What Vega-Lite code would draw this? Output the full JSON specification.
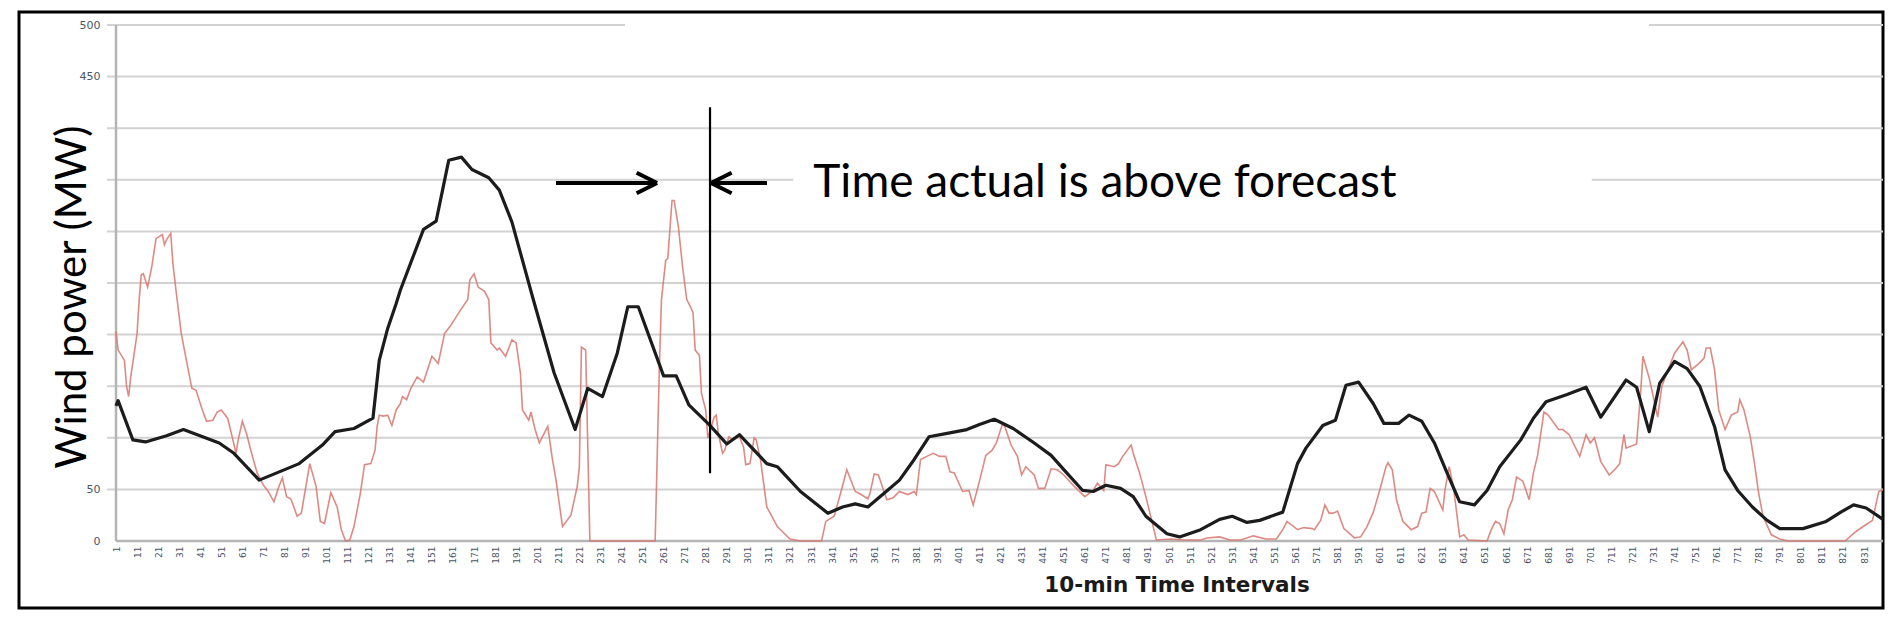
{
  "$schema": "https://vega.github.io/schema/vega-lite/v6.json",
  "width": 1864,
  "height": 596,
  "autosize": {"type": "none"},
  "padding": {"left": 19, "top": 12, "right": 17, "bottom": 22},
  "background": "white",
  "config": {
    "view": {"stroke": "black", "strokeWidth": 3},
    "font": "DejaVu Sans"
  },
  "datasets": {
    "power": [
      {"interval": 1, "mw": 131, "series": "Forecast"},
      {"interval": 2, "mw": 136, "series": "Forecast"},
      {"interval": 9, "mw": 98, "series": "Forecast"},
      {"interval": 15, "mw": 96, "series": "Forecast"},
      {"interval": 25, "mw": 102, "series": "Forecast"},
      {"interval": 33, "mw": 108, "series": "Forecast"},
      {"interval": 50, "mw": 95, "series": "Forecast"},
      {"interval": 57, "mw": 85, "series": "Forecast"},
      {"interval": 69, "mw": 59, "series": "Forecast"},
      {"interval": 88, "mw": 75, "series": "Forecast"},
      {"interval": 99, "mw": 93, "series": "Forecast"},
      {"interval": 105, "mw": 106, "series": "Forecast"},
      {"interval": 114, "mw": 109, "series": "Forecast"},
      {"interval": 123, "mw": 119, "series": "Forecast"},
      {"interval": 126, "mw": 175, "series": "Forecast"},
      {"interval": 130, "mw": 206, "series": "Forecast"},
      {"interval": 134, "mw": 230, "series": "Forecast"},
      {"interval": 136, "mw": 243, "series": "Forecast"},
      {"interval": 147, "mw": 302, "series": "Forecast"},
      {"interval": 153, "mw": 310, "series": "Forecast"},
      {"interval": 159, "mw": 369, "series": "Forecast"},
      {"interval": 165, "mw": 372, "series": "Forecast"},
      {"interval": 170, "mw": 360, "series": "Forecast"},
      {"interval": 178, "mw": 352, "series": "Forecast"},
      {"interval": 183, "mw": 340, "series": "Forecast"},
      {"interval": 189, "mw": 309, "series": "Forecast"},
      {"interval": 199, "mw": 235, "series": "Forecast"},
      {"interval": 209, "mw": 163, "series": "Forecast"},
      {"interval": 219, "mw": 108, "series": "Forecast"},
      {"interval": 225, "mw": 148, "series": "Forecast"},
      {"interval": 232, "mw": 140, "series": "Forecast"},
      {"interval": 239, "mw": 182, "series": "Forecast"},
      {"interval": 244, "mw": 227, "series": "Forecast"},
      {"interval": 249, "mw": 227, "series": "Forecast"},
      {"interval": 261, "mw": 160, "series": "Forecast"},
      {"interval": 267, "mw": 160, "series": "Forecast"},
      {"interval": 273, "mw": 132, "series": "Forecast"},
      {"interval": 283, "mw": 112, "series": "Forecast"},
      {"interval": 291, "mw": 94, "series": "Forecast"},
      {"interval": 297, "mw": 103, "series": "Forecast"},
      {"interval": 310, "mw": 75, "series": "Forecast"},
      {"interval": 315, "mw": 72, "series": "Forecast"},
      {"interval": 326, "mw": 48, "series": "Forecast"},
      {"interval": 339, "mw": 27, "series": "Forecast"},
      {"interval": 346, "mw": 33, "series": "Forecast"},
      {"interval": 352, "mw": 36, "series": "Forecast"},
      {"interval": 358, "mw": 33, "series": "Forecast"},
      {"interval": 365, "mw": 45, "series": "Forecast"},
      {"interval": 373, "mw": 59, "series": "Forecast"},
      {"interval": 380, "mw": 79, "series": "Forecast"},
      {"interval": 387, "mw": 101, "series": "Forecast"},
      {"interval": 395, "mw": 104, "series": "Forecast"},
      {"interval": 405, "mw": 108, "series": "Forecast"},
      {"interval": 411, "mw": 113, "series": "Forecast"},
      {"interval": 418, "mw": 118, "series": "Forecast"},
      {"interval": 427, "mw": 109, "series": "Forecast"},
      {"interval": 437, "mw": 95, "series": "Forecast"},
      {"interval": 445, "mw": 83, "series": "Forecast"},
      {"interval": 452, "mw": 67, "series": "Forecast"},
      {"interval": 460, "mw": 49, "series": "Forecast"},
      {"interval": 465, "mw": 48, "series": "Forecast"},
      {"interval": 471, "mw": 54, "series": "Forecast"},
      {"interval": 478, "mw": 51, "series": "Forecast"},
      {"interval": 484, "mw": 43, "series": "Forecast"},
      {"interval": 490, "mw": 24, "series": "Forecast"},
      {"interval": 500, "mw": 7, "series": "Forecast"},
      {"interval": 506, "mw": 4, "series": "Forecast"},
      {"interval": 516, "mw": 11, "series": "Forecast"},
      {"interval": 525, "mw": 21, "series": "Forecast"},
      {"interval": 531, "mw": 24, "series": "Forecast"},
      {"interval": 538, "mw": 18, "series": "Forecast"},
      {"interval": 544, "mw": 20, "series": "Forecast"},
      {"interval": 555, "mw": 28, "series": "Forecast"},
      {"interval": 562, "mw": 75, "series": "Forecast"},
      {"interval": 566, "mw": 90, "series": "Forecast"},
      {"interval": 574, "mw": 112, "series": "Forecast"},
      {"interval": 580, "mw": 117, "series": "Forecast"},
      {"interval": 585, "mw": 151, "series": "Forecast"},
      {"interval": 591, "mw": 154, "series": "Forecast"},
      {"interval": 598, "mw": 133, "series": "Forecast"},
      {"interval": 603, "mw": 114, "series": "Forecast"},
      {"interval": 610, "mw": 114, "series": "Forecast"},
      {"interval": 615, "mw": 122, "series": "Forecast"},
      {"interval": 621, "mw": 116, "series": "Forecast"},
      {"interval": 627, "mw": 95, "series": "Forecast"},
      {"interval": 633, "mw": 66, "series": "Forecast"},
      {"interval": 639, "mw": 38, "series": "Forecast"},
      {"interval": 646, "mw": 35, "series": "Forecast"},
      {"interval": 652, "mw": 49, "series": "Forecast"},
      {"interval": 658, "mw": 72, "series": "Forecast"},
      {"interval": 668, "mw": 98, "series": "Forecast"},
      {"interval": 674, "mw": 119, "series": "Forecast"},
      {"interval": 680, "mw": 135, "series": "Forecast"},
      {"interval": 690, "mw": 142, "series": "Forecast"},
      {"interval": 699, "mw": 149, "series": "Forecast"},
      {"interval": 706, "mw": 120, "series": "Forecast"},
      {"interval": 718, "mw": 156, "series": "Forecast"},
      {"interval": 723, "mw": 149, "series": "Forecast"},
      {"interval": 729, "mw": 106, "series": "Forecast"},
      {"interval": 734, "mw": 153, "series": "Forecast"},
      {"interval": 741, "mw": 174, "series": "Forecast"},
      {"interval": 747, "mw": 167, "series": "Forecast"},
      {"interval": 753, "mw": 150, "series": "Forecast"},
      {"interval": 760, "mw": 111, "series": "Forecast"},
      {"interval": 765, "mw": 69, "series": "Forecast"},
      {"interval": 771, "mw": 49, "series": "Forecast"},
      {"interval": 778, "mw": 33, "series": "Forecast"},
      {"interval": 785, "mw": 20, "series": "Forecast"},
      {"interval": 791, "mw": 12, "series": "Forecast"},
      {"interval": 802, "mw": 12, "series": "Forecast"},
      {"interval": 813, "mw": 19, "series": "Forecast"},
      {"interval": 820, "mw": 28, "series": "Forecast"},
      {"interval": 826, "mw": 35, "series": "Forecast"},
      {"interval": 832, "mw": 32, "series": "Forecast"},
      {"interval": 840, "mw": 21, "series": "Forecast"},

      {"interval": 1, "mw": 203, "series": "Actual"},
      {"interval": 2, "mw": 185, "series": "Actual"},
      {"interval": 5, "mw": 175, "series": "Actual"},
      {"interval": 6, "mw": 150, "series": "Actual"},
      {"interval": 7, "mw": 140, "series": "Actual"},
      {"interval": 8, "mw": 159, "series": "Actual"},
      {"interval": 11, "mw": 201, "series": "Actual"},
      {"interval": 12, "mw": 234, "series": "Actual"},
      {"interval": 13, "mw": 258, "series": "Actual"},
      {"interval": 14, "mw": 259, "series": "Actual"},
      {"interval": 16, "mw": 246, "series": "Actual"},
      {"interval": 18, "mw": 266, "series": "Actual"},
      {"interval": 20, "mw": 293, "series": "Actual"},
      {"interval": 23, "mw": 297, "series": "Actual"},
      {"interval": 24, "mw": 287, "series": "Actual"},
      {"interval": 25, "mw": 292, "series": "Actual"},
      {"interval": 27, "mw": 298, "series": "Actual"},
      {"interval": 28, "mw": 269, "series": "Actual"},
      {"interval": 30, "mw": 234, "series": "Actual"},
      {"interval": 32, "mw": 201, "series": "Actual"},
      {"interval": 35, "mw": 169, "series": "Actual"},
      {"interval": 37, "mw": 148, "series": "Actual"},
      {"interval": 39, "mw": 146, "series": "Actual"},
      {"interval": 42, "mw": 127, "series": "Actual"},
      {"interval": 44, "mw": 116, "series": "Actual"},
      {"interval": 47, "mw": 117, "series": "Actual"},
      {"interval": 49, "mw": 125, "series": "Actual"},
      {"interval": 51, "mw": 127, "series": "Actual"},
      {"interval": 54, "mw": 119, "series": "Actual"},
      {"interval": 55, "mw": 111, "series": "Actual"},
      {"interval": 58, "mw": 85, "series": "Actual"},
      {"interval": 59, "mw": 98, "series": "Actual"},
      {"interval": 61, "mw": 116, "series": "Actual"},
      {"interval": 63, "mw": 104, "series": "Actual"},
      {"interval": 65, "mw": 88, "series": "Actual"},
      {"interval": 68, "mw": 66, "series": "Actual"},
      {"interval": 71, "mw": 54, "series": "Actual"},
      {"interval": 73, "mw": 49, "series": "Actual"},
      {"interval": 76, "mw": 38, "series": "Actual"},
      {"interval": 78, "mw": 51, "series": "Actual"},
      {"interval": 80, "mw": 61, "series": "Actual"},
      {"interval": 82, "mw": 43, "series": "Actual"},
      {"interval": 84, "mw": 41, "series": "Actual"},
      {"interval": 87, "mw": 24, "series": "Actual"},
      {"interval": 89, "mw": 27, "series": "Actual"},
      {"interval": 93, "mw": 75, "series": "Actual"},
      {"interval": 96, "mw": 53, "series": "Actual"},
      {"interval": 98, "mw": 19, "series": "Actual"},
      {"interval": 100, "mw": 17, "series": "Actual"},
      {"interval": 103, "mw": 47, "series": "Actual"},
      {"interval": 106, "mw": 33, "series": "Actual"},
      {"interval": 108, "mw": 11, "series": "Actual"},
      {"interval": 110, "mw": 0, "series": "Actual"},
      {"interval": 112, "mw": 1, "series": "Actual"},
      {"interval": 114, "mw": 14, "series": "Actual"},
      {"interval": 117, "mw": 46, "series": "Actual"},
      {"interval": 119, "mw": 74, "series": "Actual"},
      {"interval": 122, "mw": 75, "series": "Actual"},
      {"interval": 124, "mw": 88, "series": "Actual"},
      {"interval": 125, "mw": 111, "series": "Actual"},
      {"interval": 126, "mw": 122, "series": "Actual"},
      {"interval": 128, "mw": 121, "series": "Actual"},
      {"interval": 130, "mw": 122, "series": "Actual"},
      {"interval": 132, "mw": 112, "series": "Actual"},
      {"interval": 134, "mw": 127, "series": "Actual"},
      {"interval": 136, "mw": 133, "series": "Actual"},
      {"interval": 137, "mw": 140, "series": "Actual"},
      {"interval": 139, "mw": 137, "series": "Actual"},
      {"interval": 141, "mw": 148, "series": "Actual"},
      {"interval": 144, "mw": 159, "series": "Actual"},
      {"interval": 147, "mw": 154, "series": "Actual"},
      {"interval": 151, "mw": 179, "series": "Actual"},
      {"interval": 154, "mw": 172, "series": "Actual"},
      {"interval": 157, "mw": 201, "series": "Actual"},
      {"interval": 160, "mw": 209, "series": "Actual"},
      {"interval": 164, "mw": 222, "series": "Actual"},
      {"interval": 168, "mw": 234, "series": "Actual"},
      {"interval": 169, "mw": 253, "series": "Actual"},
      {"interval": 171, "mw": 259, "series": "Actual"},
      {"interval": 173, "mw": 246, "series": "Actual"},
      {"interval": 176, "mw": 242, "series": "Actual"},
      {"interval": 178, "mw": 234, "series": "Actual"},
      {"interval": 179, "mw": 192, "series": "Actual"},
      {"interval": 182, "mw": 185, "series": "Actual"},
      {"interval": 183, "mw": 187, "series": "Actual"},
      {"interval": 186, "mw": 179, "series": "Actual"},
      {"interval": 189, "mw": 195, "series": "Actual"},
      {"interval": 191, "mw": 192, "series": "Actual"},
      {"interval": 193, "mw": 163, "series": "Actual"},
      {"interval": 194, "mw": 127, "series": "Actual"},
      {"interval": 197, "mw": 117, "series": "Actual"},
      {"interval": 198, "mw": 125, "series": "Actual"},
      {"interval": 200, "mw": 108, "series": "Actual"},
      {"interval": 202, "mw": 95, "series": "Actual"},
      {"interval": 206, "mw": 111, "series": "Actual"},
      {"interval": 208, "mw": 82, "series": "Actual"},
      {"interval": 210, "mw": 58, "series": "Actual"},
      {"interval": 213, "mw": 14, "series": "Actual"},
      {"interval": 217, "mw": 25, "series": "Actual"},
      {"interval": 220, "mw": 53, "series": "Actual"},
      {"interval": 221, "mw": 72, "series": "Actual"},
      {"interval": 222, "mw": 188, "series": "Actual"},
      {"interval": 224, "mw": 185, "series": "Actual"},
      {"interval": 226, "mw": 0, "series": "Actual"},
      {"interval": 257, "mw": 0, "series": "Actual"},
      {"interval": 259, "mw": 169, "series": "Actual"},
      {"interval": 260, "mw": 234, "series": "Actual"},
      {"interval": 262, "mw": 272, "series": "Actual"},
      {"interval": 263, "mw": 274, "series": "Actual"},
      {"interval": 265, "mw": 330, "series": "Actual"},
      {"interval": 266, "mw": 330, "series": "Actual"},
      {"interval": 268, "mw": 305, "series": "Actual"},
      {"interval": 270, "mw": 266, "series": "Actual"},
      {"interval": 272, "mw": 234, "series": "Actual"},
      {"interval": 274, "mw": 226, "series": "Actual"},
      {"interval": 275, "mw": 221, "series": "Actual"},
      {"interval": 276, "mw": 185, "series": "Actual"},
      {"interval": 278, "mw": 180, "series": "Actual"},
      {"interval": 279, "mw": 143, "series": "Actual"},
      {"interval": 281, "mw": 127, "series": "Actual"},
      {"interval": 282, "mw": 100, "series": "Actual"},
      {"interval": 283, "mw": 106, "series": "Actual"},
      {"interval": 285, "mw": 120, "series": "Actual"},
      {"interval": 286, "mw": 122, "series": "Actual"},
      {"interval": 287, "mw": 104, "series": "Actual"},
      {"interval": 289, "mw": 85, "series": "Actual"},
      {"interval": 290, "mw": 88, "series": "Actual"},
      {"interval": 292, "mw": 101, "series": "Actual"},
      {"interval": 294, "mw": 98, "series": "Actual"},
      {"interval": 297, "mw": 101, "series": "Actual"},
      {"interval": 299, "mw": 91, "series": "Actual"},
      {"interval": 300, "mw": 74, "series": "Actual"},
      {"interval": 302, "mw": 75, "series": "Actual"},
      {"interval": 304, "mw": 100, "series": "Actual"},
      {"interval": 305, "mw": 98, "series": "Actual"},
      {"interval": 307, "mw": 79, "series": "Actual"},
      {"interval": 310, "mw": 33, "series": "Actual"},
      {"interval": 315, "mw": 14, "series": "Actual"},
      {"interval": 321, "mw": 2, "series": "Actual"},
      {"interval": 326, "mw": 0, "series": "Actual"},
      {"interval": 336, "mw": 0, "series": "Actual"},
      {"interval": 338, "mw": 19, "series": "Actual"},
      {"interval": 342, "mw": 24, "series": "Actual"},
      {"interval": 345, "mw": 46, "series": "Actual"},
      {"interval": 348, "mw": 69, "series": "Actual"},
      {"interval": 352, "mw": 48, "series": "Actual"},
      {"interval": 354, "mw": 46, "series": "Actual"},
      {"interval": 358, "mw": 41, "series": "Actual"},
      {"interval": 359, "mw": 46, "series": "Actual"},
      {"interval": 361, "mw": 65, "series": "Actual"},
      {"interval": 363, "mw": 64, "series": "Actual"},
      {"interval": 367, "mw": 40, "series": "Actual"},
      {"interval": 370, "mw": 42, "series": "Actual"},
      {"interval": 373, "mw": 48, "series": "Actual"},
      {"interval": 377, "mw": 45, "series": "Actual"},
      {"interval": 380, "mw": 48, "series": "Actual"},
      {"interval": 381, "mw": 45, "series": "Actual"},
      {"interval": 383, "mw": 79, "series": "Actual"},
      {"interval": 386, "mw": 82, "series": "Actual"},
      {"interval": 389, "mw": 85, "series": "Actual"},
      {"interval": 392, "mw": 82, "series": "Actual"},
      {"interval": 395, "mw": 82, "series": "Actual"},
      {"interval": 397, "mw": 67, "series": "Actual"},
      {"interval": 399, "mw": 66, "series": "Actual"},
      {"interval": 403, "mw": 48, "series": "Actual"},
      {"interval": 406, "mw": 49, "series": "Actual"},
      {"interval": 408, "mw": 35, "series": "Actual"},
      {"interval": 411, "mw": 58, "series": "Actual"},
      {"interval": 414, "mw": 83, "series": "Actual"},
      {"interval": 417, "mw": 88, "series": "Actual"},
      {"interval": 419, "mw": 95, "series": "Actual"},
      {"interval": 422, "mw": 114, "series": "Actual"},
      {"interval": 423, "mw": 111, "series": "Actual"},
      {"interval": 426, "mw": 93, "series": "Actual"},
      {"interval": 429, "mw": 82, "series": "Actual"},
      {"interval": 431, "mw": 64, "series": "Actual"},
      {"interval": 433, "mw": 72, "series": "Actual"},
      {"interval": 437, "mw": 64, "series": "Actual"},
      {"interval": 439, "mw": 51, "series": "Actual"},
      {"interval": 442, "mw": 51, "series": "Actual"},
      {"interval": 445, "mw": 70, "series": "Actual"},
      {"interval": 448, "mw": 69, "series": "Actual"},
      {"interval": 451, "mw": 64, "series": "Actual"},
      {"interval": 456, "mw": 53, "series": "Actual"},
      {"interval": 461, "mw": 43, "series": "Actual"},
      {"interval": 465, "mw": 49, "series": "Actual"},
      {"interval": 467, "mw": 56, "series": "Actual"},
      {"interval": 470, "mw": 49, "series": "Actual"},
      {"interval": 471, "mw": 74, "series": "Actual"},
      {"interval": 475, "mw": 72, "series": "Actual"},
      {"interval": 477, "mw": 75, "series": "Actual"},
      {"interval": 479, "mw": 82, "series": "Actual"},
      {"interval": 483, "mw": 93, "series": "Actual"},
      {"interval": 484, "mw": 85, "series": "Actual"},
      {"interval": 487, "mw": 66, "series": "Actual"},
      {"interval": 490, "mw": 43, "series": "Actual"},
      {"interval": 495, "mw": 1, "series": "Actual"},
      {"interval": 502, "mw": 2, "series": "Actual"},
      {"interval": 508, "mw": 1, "series": "Actual"},
      {"interval": 516, "mw": 1, "series": "Actual"},
      {"interval": 519, "mw": 3, "series": "Actual"},
      {"interval": 525, "mw": 4, "series": "Actual"},
      {"interval": 530, "mw": 1, "series": "Actual"},
      {"interval": 535, "mw": 1, "series": "Actual"},
      {"interval": 541, "mw": 5, "series": "Actual"},
      {"interval": 547, "mw": 2, "series": "Actual"},
      {"interval": 552, "mw": 2, "series": "Actual"},
      {"interval": 555, "mw": 11, "series": "Actual"},
      {"interval": 557, "mw": 19, "series": "Actual"},
      {"interval": 562, "mw": 11, "series": "Actual"},
      {"interval": 565, "mw": 13, "series": "Actual"},
      {"interval": 569, "mw": 12, "series": "Actual"},
      {"interval": 570, "mw": 11, "series": "Actual"},
      {"interval": 573, "mw": 20, "series": "Actual"},
      {"interval": 575, "mw": 35, "series": "Actual"},
      {"interval": 577, "mw": 27, "series": "Actual"},
      {"interval": 579, "mw": 27, "series": "Actual"},
      {"interval": 581, "mw": 29, "series": "Actual"},
      {"interval": 584, "mw": 12, "series": "Actual"},
      {"interval": 589, "mw": 3, "series": "Actual"},
      {"interval": 592, "mw": 4, "series": "Actual"},
      {"interval": 595, "mw": 14, "series": "Actual"},
      {"interval": 598, "mw": 28, "series": "Actual"},
      {"interval": 601, "mw": 49, "series": "Actual"},
      {"interval": 604, "mw": 72, "series": "Actual"},
      {"interval": 605, "mw": 76, "series": "Actual"},
      {"interval": 607, "mw": 69, "series": "Actual"},
      {"interval": 609, "mw": 40, "series": "Actual"},
      {"interval": 612, "mw": 19, "series": "Actual"},
      {"interval": 616, "mw": 11, "series": "Actual"},
      {"interval": 619, "mw": 14, "series": "Actual"},
      {"interval": 621, "mw": 27, "series": "Actual"},
      {"interval": 623, "mw": 28, "series": "Actual"},
      {"interval": 625, "mw": 51, "series": "Actual"},
      {"interval": 627, "mw": 48, "series": "Actual"},
      {"interval": 631, "mw": 30, "series": "Actual"},
      {"interval": 632, "mw": 49, "series": "Actual"},
      {"interval": 634, "mw": 72, "series": "Actual"},
      {"interval": 636, "mw": 53, "series": "Actual"},
      {"interval": 639, "mw": 4, "series": "Actual"},
      {"interval": 641, "mw": 6, "series": "Actual"},
      {"interval": 643, "mw": 1, "series": "Actual"},
      {"interval": 652, "mw": 0, "series": "Actual"},
      {"interval": 654, "mw": 11, "series": "Actual"},
      {"interval": 656, "mw": 19, "series": "Actual"},
      {"interval": 658, "mw": 17, "series": "Actual"},
      {"interval": 660, "mw": 7, "series": "Actual"},
      {"interval": 662, "mw": 30, "series": "Actual"},
      {"interval": 664, "mw": 40, "series": "Actual"},
      {"interval": 666, "mw": 62, "series": "Actual"},
      {"interval": 669, "mw": 58, "series": "Actual"},
      {"interval": 672, "mw": 40, "series": "Actual"},
      {"interval": 674, "mw": 66, "series": "Actual"},
      {"interval": 676, "mw": 83, "series": "Actual"},
      {"interval": 679, "mw": 125, "series": "Actual"},
      {"interval": 681, "mw": 122, "series": "Actual"},
      {"interval": 686, "mw": 108, "series": "Actual"},
      {"interval": 688, "mw": 108, "series": "Actual"},
      {"interval": 691, "mw": 103, "series": "Actual"},
      {"interval": 696, "mw": 82, "series": "Actual"},
      {"interval": 699, "mw": 103, "series": "Actual"},
      {"interval": 701, "mw": 95, "series": "Actual"},
      {"interval": 703, "mw": 100, "series": "Actual"},
      {"interval": 706, "mw": 77, "series": "Actual"},
      {"interval": 710, "mw": 64, "series": "Actual"},
      {"interval": 713, "mw": 70, "series": "Actual"},
      {"interval": 715, "mw": 75, "series": "Actual"},
      {"interval": 717, "mw": 103, "series": "Actual"},
      {"interval": 718, "mw": 90, "series": "Actual"},
      {"interval": 723, "mw": 94, "series": "Actual"},
      {"interval": 725, "mw": 146, "series": "Actual"},
      {"interval": 726, "mw": 179, "series": "Actual"},
      {"interval": 729, "mw": 158, "series": "Actual"},
      {"interval": 733, "mw": 120, "series": "Actual"},
      {"interval": 735, "mw": 150, "series": "Actual"},
      {"interval": 738, "mw": 166, "series": "Actual"},
      {"interval": 741, "mw": 182, "series": "Actual"},
      {"interval": 745, "mw": 193, "series": "Actual"},
      {"interval": 747, "mw": 185, "series": "Actual"},
      {"interval": 749, "mw": 166, "series": "Actual"},
      {"interval": 752, "mw": 171, "series": "Actual"},
      {"interval": 755, "mw": 177, "series": "Actual"},
      {"interval": 756, "mw": 187, "series": "Actual"},
      {"interval": 758, "mw": 187, "series": "Actual"},
      {"interval": 760, "mw": 166, "series": "Actual"},
      {"interval": 762, "mw": 127, "series": "Actual"},
      {"interval": 765, "mw": 108, "series": "Actual"},
      {"interval": 768, "mw": 122, "series": "Actual"},
      {"interval": 771, "mw": 125, "series": "Actual"},
      {"interval": 772, "mw": 137, "series": "Actual"},
      {"interval": 774, "mw": 127, "series": "Actual"},
      {"interval": 777, "mw": 101, "series": "Actual"},
      {"interval": 779, "mw": 75, "series": "Actual"},
      {"interval": 781, "mw": 46, "series": "Actual"},
      {"interval": 783, "mw": 24, "series": "Actual"},
      {"interval": 787, "mw": 6, "series": "Actual"},
      {"interval": 791, "mw": 2, "series": "Actual"},
      {"interval": 795, "mw": 0, "series": "Actual"},
      {"interval": 822, "mw": 0, "series": "Actual"},
      {"interval": 827, "mw": 9, "series": "Actual"},
      {"interval": 832, "mw": 16, "series": "Actual"},
      {"interval": 835, "mw": 20, "series": "Actual"},
      {"interval": 838, "mw": 48, "series": "Actual"},
      {"interval": 840, "mw": 50, "series": "Actual"}
    ],
    "grid": [
      {"interval": -3.3, "interval_end": 242.7, "mw": 500},
      {"interval": 728.9, "interval_end": 840, "mw": 500},
      {"interval": -3.3, "interval_end": 840, "mw": 450},
      {"interval": -3.3, "interval_end": 840, "mw": 400},
      {"interval": -3.3, "interval_end": 322.6, "mw": 350},
      {"interval": 701.7, "interval_end": 840, "mw": 350},
      {"interval": -3.3, "interval_end": 840, "mw": 300},
      {"interval": -3.3, "interval_end": 840, "mw": 250},
      {"interval": -3.3, "interval_end": 840, "mw": 200},
      {"interval": -3.3, "interval_end": 840, "mw": 150},
      {"interval": -3.3, "interval_end": 840, "mw": 100},
      {"interval": -3.3, "interval_end": 840, "mw": 50}
    ],
    "axislines": [
      {"interval": 1, "interval_end": 1, "mw": 0, "mw_end": 500},
      {"interval": 1, "interval_end": 840, "mw": 0, "mw_end": 0}
    ],
    "arrows": [
      {"interval": 209.9, "interval_end": 257.9, "mw": 346.9, "mw_end": 346.9},
      {"interval": 248.2, "interval_end": 257.9, "mw": 356.9, "mw_end": 346.9},
      {"interval": 248.2, "interval_end": 257.9, "mw": 336.9, "mw_end": 346.9},
      {"interval": 283.5, "interval_end": 310.1, "mw": 346.9, "mw_end": 346.9},
      {"interval": 293.3, "interval_end": 283.5, "mw": 356.9, "mw_end": 346.9},
      {"interval": 293.3, "interval_end": 283.5, "mw": 336.9, "mw_end": 346.9}
    ],
    "marker": [
      {"interval": 283.05, "mw": 65.6, "mw_end": 420.2}
    ],
    "notes": [
      {"interval": 332.1, "mw": 333.3, "note": "Time actual is above forecast"}
    ]
  },
  "encoding": {
    "x": {
      "field": "interval",
      "type": "quantitative",
      "scale": {"domain": [-45.06, 840], "nice": false, "zero": false},
      "axis": {
        "orient": "bottom",
        "offset": -67,
        "values": [1, 11, 21, 31, 41, 51, 61, 71, 81, 91, 101, 111, 121, 131, 141, 151, 161, 171, 181, 191, 201, 211, 221, 231, 241, 251, 261, 271, 281, 291, 301, 311, 321, 331, 341, 351, 361, 371, 381, 391, 401, 411, 421, 431, 441, 451, 461, 471, 481, 491, 501, 511, 521, 531, 541, 551, 561, 571, 581, 591, 601, 611, 621, 631, 641, 651, 661, 671, 681, 691, 701, 711, 721, 731, 741, 751, 761, 771, 781, 791, 801, 811, 821, 831],
        "format": "d",
        "labelAngle": -90,
        "labelAlign": "right",
        "labelBaseline": "middle",
        "labelFontSize": 9,
        "labelColor": "#4b5568",
        "labelPadding": 5,
        "labelOverlap": false,
        "labelFlush": false,
        "ticks": false,
        "domain": false,
        "grid": false,
        "title": "10-min Time Intervals",
        "titleFont": "DejaVu Sans",
        "titleFontWeight": "bold",
        "titleFontSize": 21.5,
        "titleColor": "#1a1a1a",
        "titleX": 1157.5,
        "titleY": 50,
        "titleAlign": "center",
        "titleBaseline": "alphabetic"
      }
    },
    "y": {
      "field": "mw",
      "type": "quantitative",
      "scale": {"domain": [-64.9, 512.6], "nice": false, "zero": false},
      "axis": {
        "orient": "left",
        "offset": -97,
        "values": [0, 50, 100, 150, 200, 250, 300, 350, 400, 450, 500],
        "labelExpr": "datum.value == 0 || datum.value == 50 || datum.value >= 450 ? datum.label : ''",
        "labelFontSize": 11,
        "labelColor": "#4b5568",
        "labelPadding": 16,
        "ticks": false,
        "domain": false,
        "grid": false,
        "title": "Wind power (MW)",
        "titleFont": "Lato",
        "titleFontSize": 42,
        "titleFontWeight": "normal",
        "titleColor": "black",
        "titleAngle": -90,
        "titleX": -31,
        "titleY": 284.7,
        "titleAlign": "center",
        "titleBaseline": "alphabetic"
      }
    }
  },
  "layer": [
    {
      "data": {"name": "grid"},
      "mark": {"type": "rule", "color": "#d2d2d2", "strokeWidth": 2},
      "encoding": {
        "x2": {"field": "interval_end"}
      }
    },
    {
      "data": {"name": "axislines"},
      "mark": {"type": "rule", "color": "#b4b4b4", "strokeWidth": 2.5},
      "encoding": {
        "x2": {"field": "interval_end"},
        "y2": {"field": "mw_end"}
      }
    },
    {
      "data": {"name": "power"},
      "transform": [{"filter": "datum.series === 'Actual'"}],
      "mark": {"type": "line", "color": "#d8766d", "strokeWidth": 1.6, "opacity": 0.85},
      "encoding": {}
    },
    {
      "data": {"name": "power"},
      "transform": [{"filter": "datum.series === 'Forecast'"}],
      "mark": {"type": "line", "color": "#1c1c1c", "strokeWidth": 3.2, "strokeJoin": "round"},
      "encoding": {}
    },
    {
      "data": {"name": "arrows"},
      "mark": {"type": "rule", "color": "black", "strokeWidth": 4},
      "encoding": {
        "x2": {"field": "interval_end"},
        "y2": {"field": "mw_end"}
      }
    },
    {
      "data": {"name": "marker"},
      "mark": {"type": "rule", "color": "black", "strokeWidth": 2.2},
      "encoding": {
        "y2": {"field": "mw_end"}
      }
    },
    {
      "data": {"name": "notes"},
      "mark": {"type": "text", "font": "Lato", "fontSize": 46, "color": "black", "align": "left", "baseline": "alphabetic"},
      "encoding": {
        "text": {"field": "note"}
      }
    }
  ]
}
